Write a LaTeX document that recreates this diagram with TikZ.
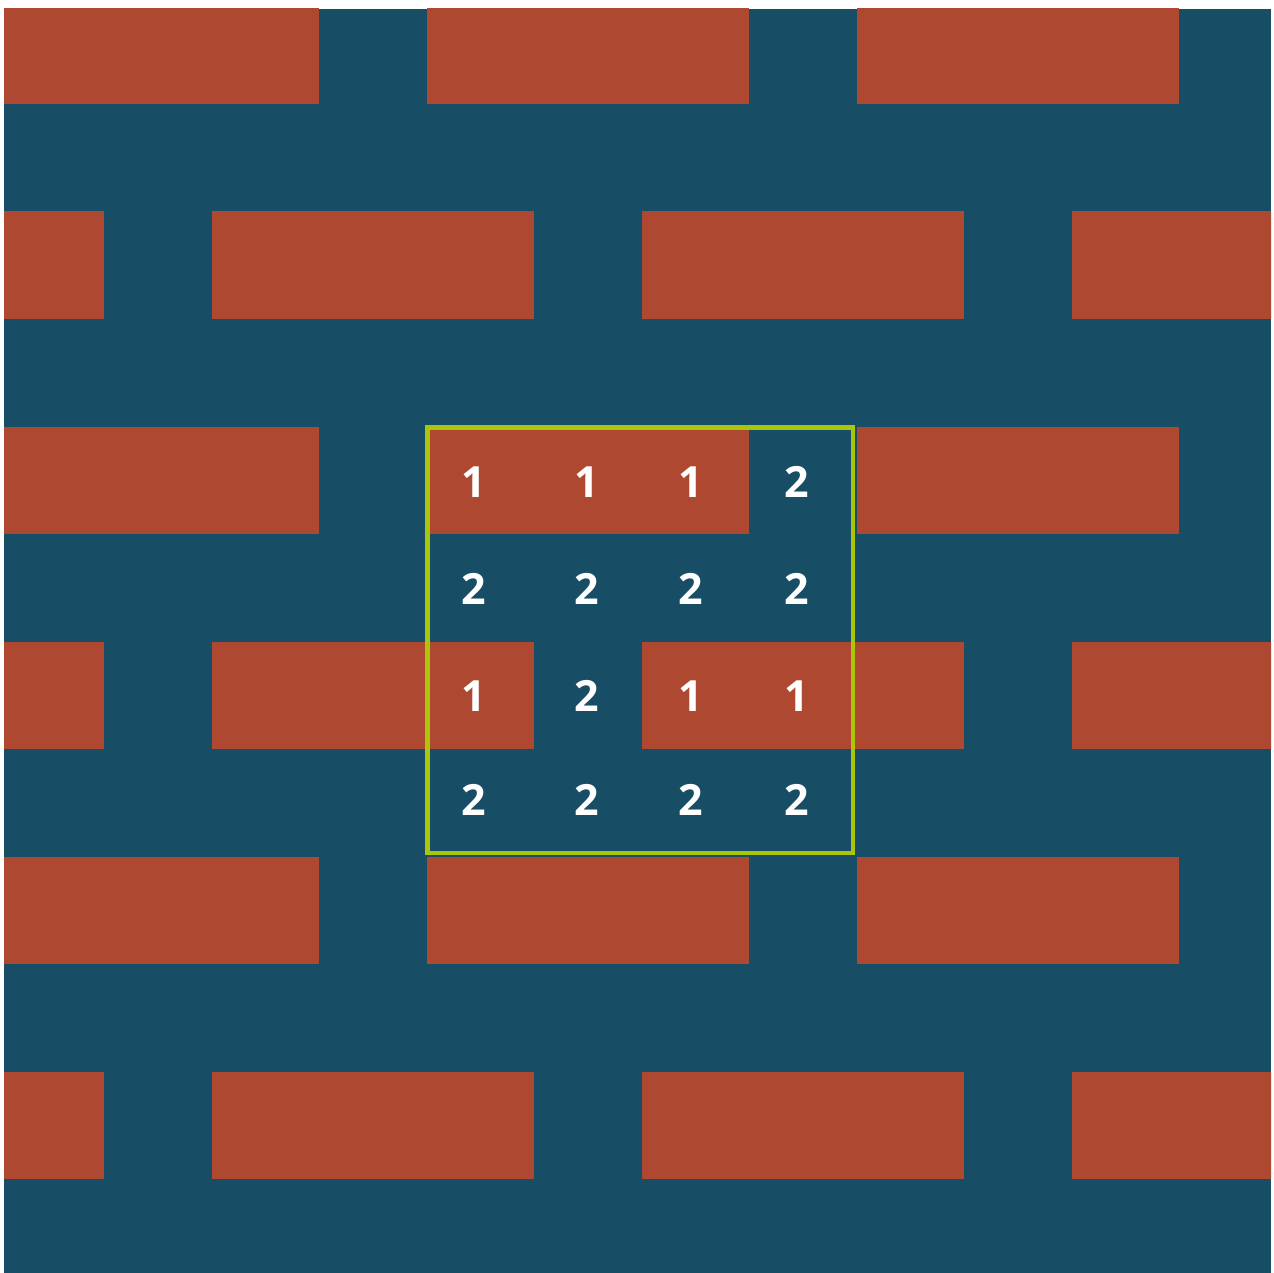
\documentclass[tikz,border=0pt]{standalone}
\usepackage{fontspec}
\setmainfont{Open Sans}
\definecolor{mortar}{RGB}{24,77,102}
\definecolor{brick}{RGB}{174,72,48}
\definecolor{lime}{RGB}{170,198,8}
\tikzset{
  brickbox/.style={fill=brick,draw=none},
  numlabel/.style={text=white,font=\fontsize{43}{43}\selectfont\bfseries,inner sep=0pt,anchor=center},
  framebox/.style={draw=lime,line width=4.5pt}
}
\begin{document}
\begin{tikzpicture}[x=1pt,y=-1pt]
\useasboundingbox (0,0) rectangle (1274,1273);
\fill[mortar] (4,9) rectangle (1271,1273);
\begin{scope}
\clip (4,9) rectangle (1271,1273);
\foreach \j in {0,...,5}{
  \pgfmathsetmacro{\ytop}{-3.5+2*\j*107.5}
  \pgfmathsetmacro{\ybot}{\ytop+107.5}
  \pgfmathtruncatemacro{\prty}{mod(\j,2)}
  \foreach \k in {-1,0,1,2,3}{
    \pgfmathsetmacro{\xlft}{-3.5+(4*\k+2*\prty)*107.5}
    \pgfmathsetmacro{\xrgt}{\xlft+3*107.5}
    \path[brickbox] (\xlft,\ytop) rectangle (\xrgt,\ybot);
  }
}
\end{scope}
\coordinate (tl) at (427.5,427.5);
\coordinate (br) at (853,853);
\draw[framebox] (tl) rectangle (br);
\node[numlabel] (n11) at (474,482) {1};
\node[numlabel] (n12) at (587,482) {1};
\node[numlabel] (n13) at (691,482) {1};
\node[numlabel] (n14) at (797,482) {2};
\node[numlabel] (n21) at (474,589) {2};
\node[numlabel] (n22) at (587,589) {2};
\node[numlabel] (n23) at (691,589) {2};
\node[numlabel] (n24) at (797,589) {2};
\node[numlabel] (n31) at (474,696) {1};
\node[numlabel] (n32) at (587,696) {2};
\node[numlabel] (n33) at (691,696) {1};
\node[numlabel] (n34) at (797,696) {1};
\node[numlabel] (n41) at (474,800) {2};
\node[numlabel] (n42) at (587,800) {2};
\node[numlabel] (n43) at (691,800) {2};
\node[numlabel] (n44) at (797,800) {2};
\end{tikzpicture}
\end{document}
